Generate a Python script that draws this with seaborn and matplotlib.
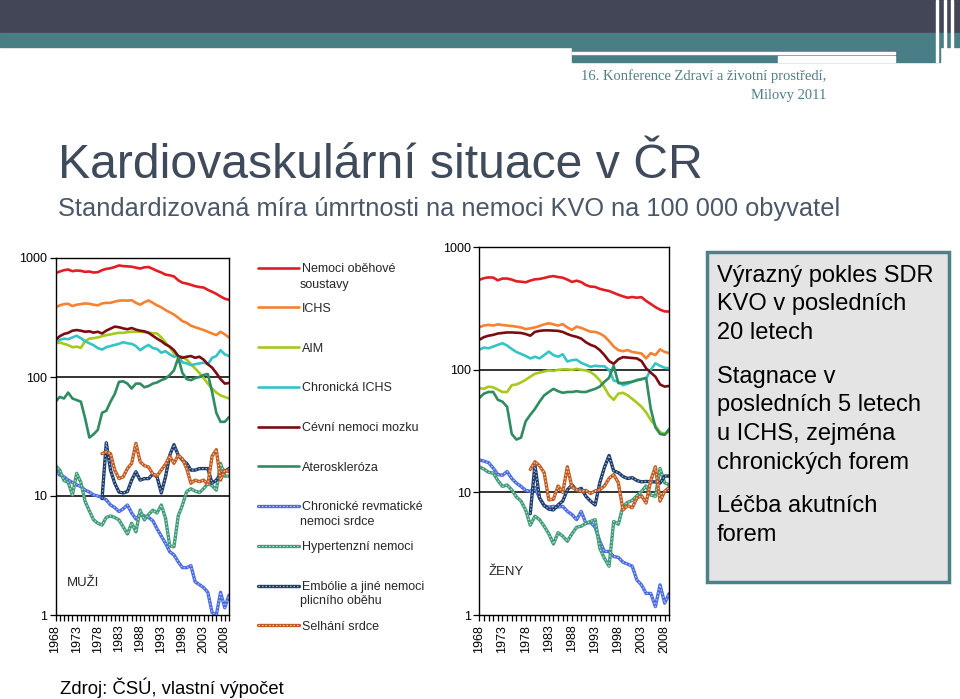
import matplotlib
matplotlib.use("Agg")
import matplotlib.pyplot as plt
import seaborn as sns
from matplotlib.patches import Rectangle
from matplotlib.legend_handler import HandlerTuple
from matplotlib.ticker import FixedLocator, NullLocator, MultipleLocator

# ---------------- data ----------------
years = list(range(1968, 2010))
years_late = list(range(1979, 2010))

# MUŽI (men)
red_m = [745, 770, 790, 800, 775, 785, 780, 765, 770, 755, 760, 790, 810, 820, 840, 865, 855, 850, 845, 830,
         815, 835, 840, 810, 780, 755, 725, 715, 700, 650, 620, 610, 595, 580, 570, 565, 540, 520, 500, 475, 455, 445]
orange_m = [385, 400, 410, 412, 395, 405, 410, 415, 412, 405, 400, 415, 420, 420, 430, 438, 440, 438, 442, 420,
            405, 425, 440, 420, 400, 385, 365, 350, 335, 315, 295, 285, 270, 262, 255, 248, 240, 232, 225, 240, 228, 215]
aim_m = [192, 195, 190, 185, 178, 180, 176, 200, 210, 212, 215, 220, 225, 228, 232, 235, 235, 238, 240, 240,
         240, 238, 236, 233, 232, 215, 195, 178, 158, 148, 148, 140, 128, 118, 108, 98, 88, 80, 74, 70, 68, 66]
chron_m = [198, 205, 210, 208, 215, 222, 212, 200, 192, 185, 175, 170, 178, 182, 186, 190, 196, 192, 190, 182,
           168, 178, 186, 175, 172, 160, 165, 155, 148, 150, 133, 130, 126, 128, 130, 132, 128, 145, 150, 168, 155, 150]
cevni_m = [205, 220, 230, 235, 245, 248, 245, 240, 242, 236, 240, 232, 245, 255, 265, 262, 256, 252, 258, 250,
           245, 242, 235, 222, 210, 200, 188, 180, 168, 150, 145, 148, 150, 145, 148, 140, 128, 120, 108, 96, 88, 89]
ater_m = [62, 68, 66, 74, 66, 64, 62, 45, 31, 33, 36, 50, 52, 62, 72, 91, 92, 88, 80, 88,
          88, 82, 84, 88, 90, 94, 97, 104, 114, 145, 108, 96, 94, 98, 100, 104, 106, 75, 50, 42, 42, 46]
revm_m = [16.5, 15, 14.5, 13.6, 13, 12.4, 12, 11.2, 10.8, 10.2, 10, 9.7, 9.3, 8.4, 8.0, 7.4, 7.8, 8.4, 7.2, 6.4,
          7.0, 6.8, 6.6, 6.2, 5.3, 4.6, 4.0, 3.4, 3.2, 2.8, 2.5, 2.5, 2.6, 1.9, 1.8, 1.7, 1.55, 1.05, 1.0, 1.55, 1.15, 1.47]
hyper_m = [18, 16.5, 13.5, 13, 10.2, 15.5, 13, 9, 7.5, 6.3, 5.9, 5.7, 6.6, 6.8, 6.6, 6.3, 5.5, 4.8, 5.9, 5.0,
           7.6, 6.3, 7.0, 7.6, 7.2, 8.4, 6.5, 3.8, 3.75, 6.8, 8.4, 10.9, 11.5, 11, 10.7, 11.5, 12.8, 12.2, 11.2, 18.8, 14.7, 14.7]
embo_m = [9.5, 28, 16.5, 12.8, 10.8, 10.6, 10.9, 13.6, 16, 13.6, 14, 14, 15.3, 14.5, 10.6, 14.5, 22, 27, 22, 20,
          18.8, 16.5, 16.5, 17, 17, 17, 12.8, 13.6, 15, 16, 17]
fail_m = [22.7, 23.5, 22.7, 16.5, 14, 14.5, 17, 18.8, 27.7, 19.4, 18, 17.5, 15.3, 14.8, 16.5, 18.5, 21.6, 18.8, 22, 20.5,
          17, 12.8, 13.6, 13.2, 13.6, 12.5, 21.6, 24.5, 13.6, 16.5, 16]

# ŽENY (women)
red_w = [543, 560, 568, 566, 538, 556, 556, 545, 528, 524, 518, 535, 548, 552, 562, 575, 582, 572, 565, 545,
         522, 534, 520, 492, 478, 475, 458, 448, 440, 425, 410, 398, 388, 393, 388, 392, 365, 345, 325, 310, 300, 299]
orange_w = [223, 230, 233, 230, 235, 232, 230, 228, 225, 222, 215, 218, 222, 228, 235, 240, 235, 230, 236, 222,
            212, 225, 220, 212, 205, 204, 198, 188, 172, 155, 145, 142, 145, 140, 138, 136, 124, 137, 132, 147, 140, 137]
aim_w = [71, 70, 73, 72, 69, 66, 66, 75, 76, 79, 83, 88, 93, 95, 97, 99, 98, 100, 101, 101,
         100, 102, 100, 99, 96, 90, 82, 72, 62, 57, 64, 65, 62, 58, 54, 50, 45, 39, 35, 31, 30, 31.5]
chron_w = [146, 152, 150, 155, 160, 165, 158, 148, 140, 135, 130, 124, 128, 124, 132, 141, 132, 128, 134, 117,
           120, 121, 114, 110, 106, 108, 107, 107, 100, 82, 80, 75, 77, 80, 83, 84, 85, 100, 113, 108, 104, 103]
cevni_w = [176, 185, 190, 193, 198, 200, 202, 202, 201, 200, 196, 190, 204, 208, 210, 210, 209, 208, 204, 196,
           190, 186, 180, 168, 160, 155, 145, 132, 118, 112, 122, 127, 126, 125, 124, 118, 103, 95, 88, 76, 73, 74]
ater_w = [59, 64, 66, 66, 57, 55, 50, 30, 27, 28, 38, 43, 48, 55, 62, 66, 70, 67, 65, 66,
          66, 67, 66, 66, 68, 70, 73, 80, 86, 108, 78, 78, 79, 80, 82, 84, 86, 48, 34, 30, 29.5, 33]
revm_w = [18.4, 18, 17.5, 15.8, 14, 13.8, 14.8, 13, 11.9, 11.2, 10.4, 10.2, 11, 9.0, 7.8, 7.6, 7.7, 7.6, 7.7, 7.0,
          6.6, 6.0, 7.0, 5.6, 5.7, 5.2, 4.0, 3.3, 3.3, 3.0, 2.95, 2.7, 2.6, 2.5, 1.93, 1.76, 1.5, 1.5, 1.17, 1.76, 1.25, 1.5]
hyper_w = [16.2, 15.5, 14.6, 14.4, 12.5, 11.2, 11.5, 10.5, 9.2, 8.5, 7.2, 5.4, 6.4, 6.0, 5.3, 4.6, 3.8, 4.7, 4.4, 4.0,
           4.6, 5.2, 5.3, 5.6, 5.8, 6.0, 3.5, 2.9, 2.5, 5.8, 5.5, 7.7, 8.3, 8.6, 9.4, 10.2, 11.3, 9.5, 9.3, 15.7, 12, 11.5]
embo_w = [6.7, 16.8, 9.0, 7.8, 7.3, 7.2, 7.9, 8.5, 10.5, 11.5, 10.4, 10.8, 9.3, 8.5, 7.9, 12, 16, 20, 15, 14.5,
          13.5, 13, 13.2, 12.5, 12.2, 12.3, 12.2, 12.2, 11.9, 13.6, 13.6]
fail_w = [15.4, 17.8, 16.5, 14.5, 8.7, 8.8, 11.3, 10, 16.2, 11, 10.5, 10.2, 10.4, 9.8, 10.3, 10.5, 11.3, 13, 14, 12,
          7.2, 7.8, 7.5, 9.0, 9.4, 8.2, 12.5, 16.2, 8.5, 10.2, 11]

legend_labels = ["Nemoci oběhové", "ICHS", "AIM", "Chronická ICHS", "Cévní nemoci mozku", "Ateroskleróza",
                 "Chronické revmatické", "Hypertenzní nemoci", "Embólie a jiné nemoci", "Selhání srdce"]
legend_second = {0: "soustavy", 6: "nemoci srdce", 8: "plicního oběhu"}
ytick_vals = [1, 10, 100, 1000]
ytick_labels = ["1", "10", "100", "1000"]
xtick_vals = list(range(1968, 2009, 5))

solid_colors = ["#e01e24", "#f58230", "#a6c91e", "#35c4c6", "#7a0c12", "#2f8c60"]
hatch_colors = [("#4a6be0", "#b3c4f7"), ("#3f9a78", "#b5e0cc"), ("#1d3a68", "#9fb5d6"), ("#c05a22", "#f5c9a4")]

# ---------------- figure ----------------
sns.set_theme(style="white")
plt.rcParams["font.family"] = ["Liberation Sans", "DejaVu Sans"]
W, H = 960, 699
fig = plt.figure(figsize=(9.6, 6.99), dpi=100)
fig.patch.set_facecolor("white")


def fx(x):
    return x / W


def fy(y):
    return 1 - y / H


# header decoration
fig.patches.append(Rectangle((0, fy(33)), 1, 33 / H, transform=fig.transFigure, color="#434656", zorder=0))
fig.patches.append(Rectangle((0, fy(47)), 1, 14 / H, transform=fig.transFigure, color="#4a7e86", zorder=0))
fig.patches.append(Rectangle((fx(572), fy(62)), fx(940) - fx(572), 15 / H, transform=fig.transFigure,
                             color="#4a7e86", zorder=0))
fig.patches.append(Rectangle((fx(572), fy(54)), fx(895) - fx(572), 2.5 / H, transform=fig.transFigure,
                             color="white", zorder=1))
fig.patches.append(Rectangle((fx(778), fy(62)), fx(895) - fx(778), 6 / H, transform=fig.transFigure,
                             color="white", zorder=1))
for xv in (936, 944, 951):
    fig.patches.append(Rectangle((fx(xv), fy(62)), 1.5 / W, 62 / H, transform=fig.transFigure,
                                 color="white", zorder=1))

fig.text(fx(826), fy(76), "16. Konference Zdraví a životní prostředí,", ha="right", va="center",
         fontsize=10.5, color="#4f7f88", family=["Liberation Serif", "DejaVu Serif"])
fig.text(fx(826), fy(95), "Milovy 2011", ha="right", va="center",
         fontsize=10.5, color="#4f7f88", family=["Liberation Serif", "DejaVu Serif"])

fig.text(fx(58), fy(178), "Kardiovaskulární situace v ČR", ha="left", va="baseline",
         fontsize=34.7, color="#3f4a5a")
fig.text(fx(58), fy(216), "Standardizovaná míra úmrtnosti na nemoci KVO na 100 000 obyvatel",
         ha="left", va="baseline", fontsize=18.3, color="#4a5768")
fig.text(fx(60), fy(694), "Zdroj: ČSÚ, vlastní výpočet", ha="left", va="baseline", fontsize=13.3, color="black")

axL = fig.add_axes([fx(55.5), fy(615), (229 - 55.5) / W, (615 - 258) / H])
axR = fig.add_axes([fx(479.3), fy(615), (669.3 - 479.3) / W, (615 - 247.3) / H])

panels = [
    (axL, [red_m, orange_m, aim_m, chron_m, cevni_m, ater_m], [revm_m, hyper_m, embo_m, fail_m], "MUŽI", 583),
    (axR, [red_w, orange_w, aim_w, chron_w, cevni_w, ater_w], [revm_w, hyper_w, embo_w, fail_w], "ŽENY", 572),
]

handles = []
for k, (ax, solid, hatched, label, ylab) in enumerate(panels):
    for vals, col in zip(solid, solid_colors):
        sns.lineplot(x=years, y=vals, ax=ax, color=col, linewidth=1.9, estimator=None)
        if k == 0:
            handles.append(ax.lines[-1])
    for vals, (dark, light) in zip(hatched, hatch_colors):
        xs = years if len(vals) == len(years) else years_late
        sns.lineplot(x=xs, y=vals, ax=ax, color=dark, linewidth=2.4, estimator=None)
        l1 = ax.lines[-1]
        sns.lineplot(x=xs, y=vals, ax=ax, color=light, linewidth=0.9, estimator=None, linestyle=(0, (1.2, 1.6)))
        l2 = ax.lines[-1]
        if k == 0:
            handles.append((l1, l2))
    ax.set_yscale("log")
    ax.set_ylim(1, 1000)
    ax.set_xlim(1968, 2009)
    ax.yaxis.set_major_locator(FixedLocator(ytick_vals))
    ax.set_yticklabels(ytick_labels)
    ax.yaxis.set_minor_locator(NullLocator())
    ax.xaxis.set_major_locator(FixedLocator(xtick_vals))
    ax.set_xticklabels([str(v) for v in xtick_vals], rotation=90)
    ax.xaxis.set_minor_locator(MultipleLocator(1))
    ax.tick_params(axis="both", which="both", direction="out", length=4, width=0.9, color="black",
                   labelsize=9, labelcolor="black", pad=2, bottom=True, left=True)
    ax.tick_params(axis="x", which="major", pad=3)
    ax.set_xlabel("")
    ax.set_ylabel("")
    ax.grid(False)
    for yv in (10, 100):
        ax.axhline(yv, color="#222222", lw=1.3, zorder=0.5)
    for sp in ax.spines.values():
        sp.set_visible(True)
        sp.set_color("black")
        sp.set_linewidth(1.0)
    ax.set_facecolor("none")
    fig.text(fx(67) if k == 0 else fx(489), fy(ylab), label, ha="left", va="center", fontsize=9.5)

leg = fig.legend(handles, legend_labels, loc="upper left", bbox_to_anchor=(fx(258), fy(263)),
                 frameon=False, fontsize=9, handlelength=3.3, handletextpad=0.2, labelspacing=2.22,
                 borderpad=0, borderaxespad=0, handler_map={tuple: HandlerTuple(ndivide=1, pad=0)})
for i, txt in legend_second.items():
    fig.text(fx(300), fy(268 + 39.6 * i + 16.5), txt, ha="left", va="center", fontsize=9)

# text box
fig.patches.append(Rectangle((fx(707), fy(582)), (949 - 707) / W, (582 - 252) / H, transform=fig.transFigure,
                             facecolor="#e4e4e4", edgecolor="#4d8087", linewidth=2.5, zorder=1))
box_lines = [("Výrazný pokles SDR", 276), ("KVO v posledních", 304), ("20 letech", 333),
             ("Stagnace v", 377), ("posledních 5 letech", 405), ("u ICHS, zejména", 434), ("chronických forem", 463),
             ("Léčba akutních", 506), ("forem", 535)]
for txt, yy in box_lines:
    fig.text(fx(717), fy(yy), txt, ha="left", va="center", fontsize=17, color="black", zorder=2)

fig.savefig("out.png", dpi=100)
